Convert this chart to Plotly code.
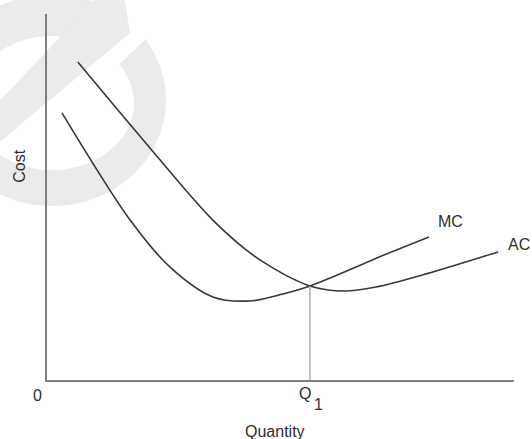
import numpy as np
import plotly.graph_objects as go

# ---------------- data ----------------
q_mc = [0.32, 1.78, 2.63, 3.55, 4.35, 5.05, 5.63, 7.32, 8.18]
mc = [7.30, 4.37, 3.09, 2.27, 2.16, 2.35, 2.57, 3.47, 3.91]

q_ac = [0.66, 2.06, 3.55, 4.56, 5.63, 6.38, 7.04, 8.12, 9.66]
ac = [8.69, 6.56, 4.37, 3.28, 2.57, 2.43, 2.54, 2.90, 3.50]

q1 = 5.63
cost_q1 = 2.57

x_title = "Quantity"
y_title = "Cost"
origin_label = "0"
curve_labels = ["MC", "AC"]

# ---------------- layout geometry ----------------
W, H = 532, 439
# plot area in window pixels: x 47..514, y 14..380
PX0, PX1, PY0, PY1 = 47, 514, 14, 380
L, T, R, B = PX0, PY0, W - PX1, H - PY1

def paper(px, py):
    return (px - PX0) / (PX1 - PX0), (PY1 - py) / (PY1 - PY0)

# watermark (decorative) drawn in window pixel space then converted to paper coords
def ring_path(cxo, cyo, rxo, ryo, cxi, cyi, rxi, ryi, a0, a1, n=90):
    th = np.radians(np.linspace(a0, a1, n))
    outer = [paper(cxo + rxo * np.cos(t), cyo - ryo * np.sin(t)) for t in th]
    inner = [paper(cxi + rxi * np.cos(t), cyi - ryi * np.sin(t)) for t in th[::-1]]
    pts = outer + inner
    return "M " + " L ".join(f"{x:.4f},{y:.4f}" for x, y in pts) + " Z"

def poly_path(pts):
    pp = [paper(x, y) for x, y in pts]
    return "M " + " L ".join(f"{x:.4f},{y:.4f}" for x, y in pp) + " Z"

wm_color = "#ebebeb"
shapes = [
    dict(type="path", xref="paper", yref="paper", layer="below",
         path=ring_path(52, 100, 114, 106, 52, 103, 82, 67, 55, 395),
         fillcolor=wm_color, line=dict(width=0)),
    dict(type="path", xref="paper", yref="paper", layer="below",
         path=poly_path([(-30, 132), (-30, 167), (130, 33), (124, -5), (100, -5)]),
         fillcolor=wm_color, line=dict(width=0)),
]

curve_color = "#383838"
fig = go.Figure()
fig.add_trace(go.Scatter(x=q_mc, y=mc, mode="lines",
                         line=dict(color=curve_color, width=1.6, shape="spline", smoothing=0.9),
                         hoverinfo="skip", cliponaxis=False))
fig.add_trace(go.Scatter(x=q_ac, y=ac, mode="lines",
                         line=dict(color=curve_color, width=1.6, shape="spline", smoothing=0.9),
                         hoverinfo="skip", cliponaxis=False))
fig.add_trace(go.Scatter(x=[q1, q1], y=[0, cost_q1], mode="lines",
                         line=dict(color="#9fb5ae", width=1.5), hoverinfo="skip"))

font = dict(family="Liberation Sans, Arial, sans-serif", size=16, color="#2e2e2e")
# label positions in data units (axis range 0..10), converted to paper
ann = [
    dict(x=q_mc[-1] + 0.45, y=mc[-1] + 0.41, text=curve_labels[0]),
    dict(x=q_ac[-1] + 0.45, y=ac[-1] + 0.19, text=curve_labels[1]),
    dict(x=-0.21, y=-0.41, text=origin_label),
    dict(x=q1 - 0.11, y=-0.36, text="Q"),
    dict(x=q1 + 0.19, y=-0.68, text="1"),
    dict(x=4.88, y=-1.42, text=x_title),
    dict(x=-0.58, y=5.85, text=y_title, textangle=-90),
]
annotations = []
for a in ann:
    a = dict(a)
    a["x"] = a["x"] / 10.0
    a["y"] = a["y"] / 10.0
    annotations.append(dict(xref="paper", yref="paper", showarrow=False, font=font,
                            xanchor="center", yanchor="middle", **a))

axis_common = dict(showgrid=False, zeroline=False, showticklabels=False, ticks="",
                   showline=True, linecolor="#7f7f7f", linewidth=2, mirror=False, fixedrange=True)
fig.update_layout(
    width=W, height=H,
    margin=dict(l=L, r=R, t=T, b=B, pad=0),
    paper_bgcolor="white", plot_bgcolor="rgba(0,0,0,0)",
    showlegend=False,
    hovermode=False,
    xaxis=dict(range=[0, 10], **axis_common),
    yaxis=dict(range=[0, 10], **axis_common),
    shapes=shapes,
    annotations=annotations,
)

fig.write_html("out.html",
               config={"displayModeBar": False, "staticPlot": True},
               post_script="document.body.style.margin='0';document.body.style.overflow='hidden';")
